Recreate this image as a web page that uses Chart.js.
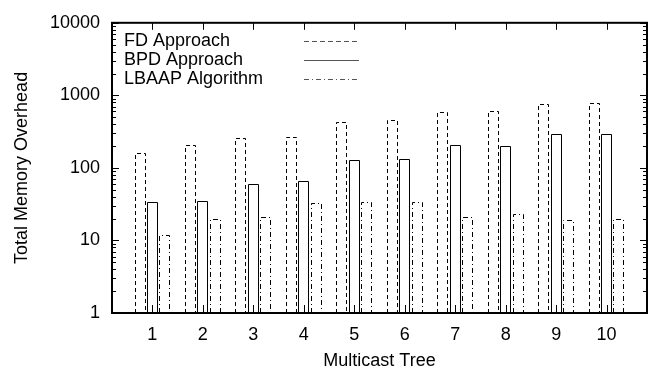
<!DOCTYPE html>
<html lang="en">
<head>
<meta charset="UTF-8">
<title>Total Memory Overhead</title>
<script src="https://cdn.jsdelivr.net/npm/chart.js"></script>
<style>
  html, body { margin: 0; padding: 0; background: #fff; }
  #wrap { width: 655px; height: 369px; }
</style>
</head>
<body>
<div id="wrap"><canvas id="memChart" width="655" height="369"></canvas></div>
<script>
// data
const trees = [1, 2, 3, 4, 5, 6, 7, 8, 9, 10];
const fdValues = [163, 208, 256, 270, 432, 454, 590, 603, 766, 783];
const bpdValues = [34, 35, 60, 65, 130, 134, 210, 201, 293, 293];
const lbaapValues = [12, 20, 21, 33, 34, 34, 21, 23, 19, 20];
const yTicks = [1, 10, 100, 1000, 10000];
const seriesNames = ['FD Approach', 'BPD Approach', 'LBAAP Algorithm'];

const FONT = "'Liberation Sans', Arial, Helvetica, sans-serif";
const dashes = [[4, 3], [], [5, 3, 1, 3]];
const shift = [-0.245, 0, 0.245];

function toPoints(vals, k) {
    return trees.map((t, i) => ({ x: t + shift[k], y: vals[i] }));
}

// bars are stroked by hand so they can be dashed like gnuplot
const outlineBars = {
    id: 'outlineBars',
    afterDatasetsDraw(chart) {
        const ctx = chart.ctx;
        ctx.save();
        ctx.strokeStyle = '#000';
        ctx.lineWidth = 1;
        chart.data.datasets.forEach((ds, k) => {
            const meta = chart.getDatasetMeta(k);
            ctx.setLineDash(dashes[k]);
            meta.data.forEach(bar => {
                const l = Math.round(bar.x - bar.width / 2) + 0.5;
                const r = Math.round(bar.x + bar.width / 2) - 0.5;
                const t = Math.round(bar.y) + 0.5;
                const b = Math.round(bar.base);
                ctx.beginPath();
                ctx.moveTo(l, b);
                ctx.lineTo(l, t);
                ctx.lineTo(r, t);
                ctx.lineTo(r, b);
                ctx.stroke();
            });
        });
        ctx.restore();
    }
};

// frame, mirrored inward ticks and the legend
const frameAndLegend = {
    id: 'frameAndLegend',
    afterDraw(chart) {
        const ctx = chart.ctx;
        const a = chart.chartArea;
        const xs = chart.scales.x;
        const ys = chart.scales.y;
        ctx.save();
        ctx.strokeStyle = '#000';
        ctx.lineWidth = 1;
        ctx.beginPath();
        trees.forEach(t => {
            const px = Math.round(xs.getPixelForValue(t)) + 0.5;
            ctx.moveTo(px, a.bottom); ctx.lineTo(px, a.bottom - 8);
            ctx.moveTo(px, a.top); ctx.lineTo(px, a.top + 7);
        });
        for (let d = 1; d <= 10000; d *= 10) {
            for (let m = 1; m <= 9; m++) {
                const v = d * m;
                if (v > 10000) break;
                const len = m === 1 ? 7 : 4;
                const py = Math.round(ys.getPixelForValue(v)) + 0.5;
                ctx.moveTo(a.left, py); ctx.lineTo(a.left + len, py);
                ctx.moveTo(a.right, py); ctx.lineTo(a.right - len, py);
            }
        }
        ctx.stroke();
        ctx.lineWidth = 2;
        ctx.strokeRect(a.left, a.top, a.right - a.left, a.bottom - a.top);

        // legend: text on the left, line sample on the right
        ctx.font = '18px ' + FONT;
        ctx.fillStyle = '#000';
        ctx.textBaseline = 'middle';
        ctx.textAlign = 'left';
        const rows = [18, 37, 56];
        seriesNames.forEach((name, k) => {
            const y = a.top + rows[k];
            ctx.fillText(name, a.left + 12, y);
            ctx.save();
            ctx.strokeStyle = '#555';
            ctx.lineWidth = 1.2;
            ctx.setLineDash(k === 0 ? [5, 3] : k === 2 ? [5, 3, 1, 3] : []);
            ctx.beginPath();
            ctx.moveTo(a.left + 192, Math.round(y) + 0.5);
            ctx.lineTo(a.left + 247, Math.round(y) + 0.5);
            ctx.stroke();
            ctx.restore();
        });
        ctx.restore();
    }
};

const noFill = 'rgba(0,0,0,0)';
const ctx = document.getElementById('memChart').getContext('2d');
new Chart(ctx, {
    type: 'bar',
    data: {
        datasets: [
            { label: seriesNames[0], data: toPoints(fdValues, 0), backgroundColor: noFill, borderWidth: 0 },
            { label: seriesNames[1], data: toPoints(bpdValues, 1), backgroundColor: noFill, borderWidth: 0 },
            { label: seriesNames[2], data: toPoints(lbaapValues, 2), backgroundColor: noFill, borderWidth: 0 }
        ]
    },
    options: {
        responsive: false,
        animation: false,
        devicePixelRatio: 1,
        layout: { padding: { top: 19, right: 8, left: 0, bottom: 0 } },
        datasets: {
            bar: {
                grouped: false,
                barThickness: 11
            }
        },
        plugins: {
            colors: { enabled: false },
            legend: { display: false },
            tooltip: { enabled: false }
        },
        scales: {
            x: {
                type: 'linear',
                min: 0.2,
                max: 10.8,
                offset: false,
                grid: { display: false, drawTicks: false },
                border: { display: false },
                afterBuildTicks: s => { s.ticks = trees.map(v => ({ value: v })); },
                afterFit: s => { s.height = 56; },
                ticks: {
                    padding: 11,
                    color: '#000',
                    font: { family: FONT, size: 18 },
                    callback: v => String(v)
                },
                title: {
                    display: true,
                    text: 'Multicast Tree',
                    color: '#000',
                    font: { family: FONT, size: 18 },
                    padding: { top: 0, bottom: -3 }
                }
            },
            y: {
                type: 'logarithmic',
                min: 1,
                max: 10000,
                grid: { display: false, drawTicks: false },
                border: { display: false },
                afterBuildTicks: s => { s.ticks = yTicks.map(v => ({ value: v })); },
                afterFit: s => { s.width = 112; },
                ticks: {
                    padding: 12,
                    color: '#000',
                    font: { family: FONT, size: 18 },
                    callback: v => String(v)
                },
                title: {
                    display: true,
                    text: 'Total Memory Overhead',
                    color: '#000',
                    font: { family: FONT, size: 18 },
                    padding: { top: 11, bottom: 0 }
                }
            }
        }
    },
    plugins: [outlineBars, frameAndLegend]
});
</script>
</body>
</html>
